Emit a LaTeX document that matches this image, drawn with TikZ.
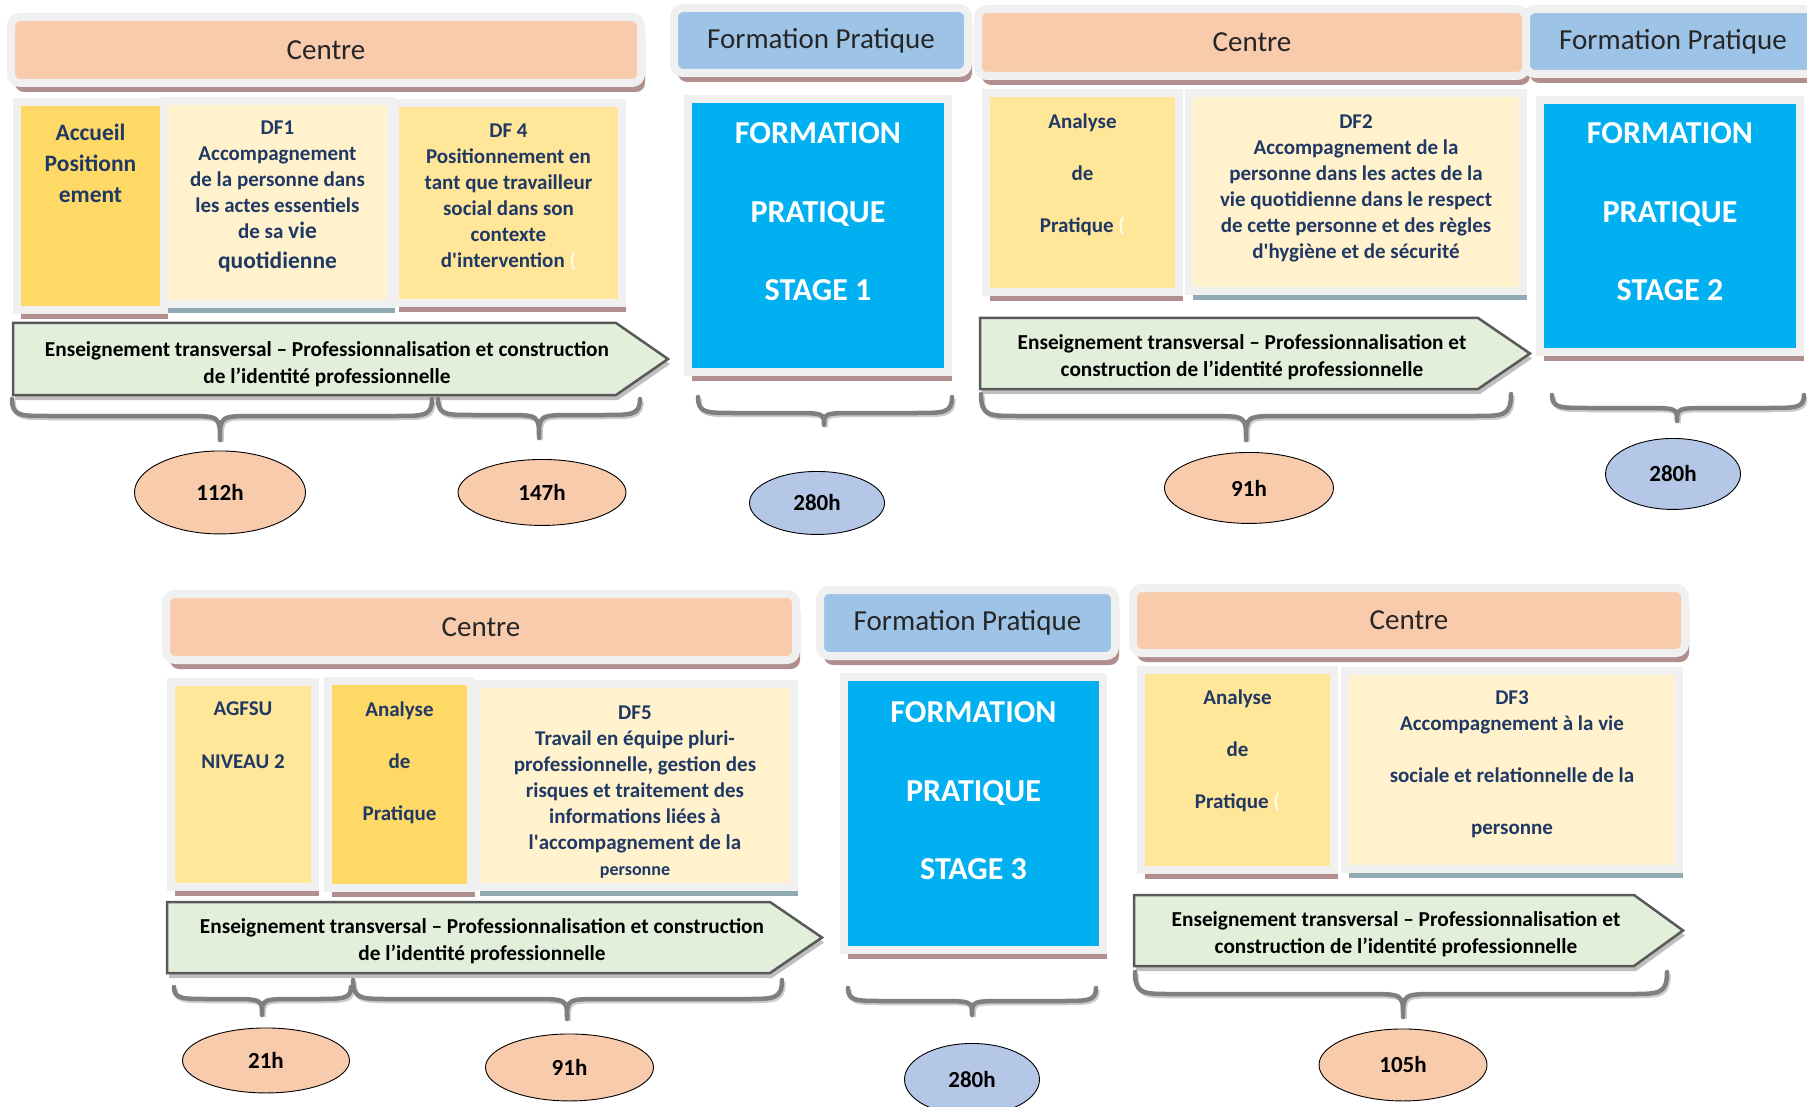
\documentclass[tikz,border=0pt]{standalone}
\usepackage{fontspec}
\setmainfont{Carlito}
\usetikzlibrary{positioning}
\usetikzlibrary{shapes.geometric}
\usetikzlibrary{shadows}

\definecolor{peach}{HTML}{F8CBAD}
\definecolor{skyblue}{HTML}{9DC3E6}
\definecolor{stagecyan}{HTML}{00B0F0}
\definecolor{gold}{HTML}{FFD966}
\definecolor{sand}{HTML}{FFE699}
\definecolor{cream}{HTML}{FFF2CC}
\definecolor{mint}{HTML}{E2EFDA}
\definecolor{hourblue}{HTML}{B4C7E7}
\definecolor{navy}{HTML}{1F3864}
\definecolor{framegray}{HTML}{F0F0F0}
\definecolor{rosy}{HTML}{B08F8E}
\definecolor{slate}{HTML}{8FAAB0}
\definecolor{headgray}{HTML}{262626}
\definecolor{bracegray}{HTML}{7F7F7F}
\definecolor{bannerline}{HTML}{595959}
\definecolor{faint}{HTML}{FFFBEA}

\newcommand{\apos}{\textquotesingle}
% name, x left, x right, x tip, y top, y middle, y tip
\newcommand{\hourbrace}[7]{%
	\draw[brace] (#2,#5) .. controls (#2,#6) and (#2+8,#6) .. (#2+36,#6) -- (#4-36,#6) .. controls (#4,#6) .. (#4,#7)
		.. controls (#4,#6) .. (#4+36,#6) -- (#3-36,#6) .. controls (#3-8,#6) and (#3,#6) .. (#3,#5);
	\coordinate (#1) at (#4,#7);}

\tikzset{
	cell/.style={draw=framegray, line width=8pt, inner sep=0pt, outer sep=0pt,
		drop shadow={shadow xshift=4pt, shadow yshift=-9pt, fill=#1, opacity=1}},
	cell/.default=rosy,
	head/.style={cell, rounded corners=9pt, text=headgray, font=\fontsize{29}{34}\selectfont},
	boxtext/.style={align=center, inner sep=0pt, text=navy, font=\bfseries\fontsize{21}{26}\selectfont},
	stagetext/.style={align=center, inner sep=0pt, text=white, font=\bfseries\fontsize{32}{78.5}\selectfont},
	banner/.style={fill=mint, draw=bannerline, line width=2.5pt,
		drop shadow={shadow xshift=2pt, shadow yshift=-5pt, fill=black!25, opacity=1}},
	bannertext/.style={align=center, inner sep=0pt, font=\bfseries\fontsize{21.3}{27}\selectfont},
	brace/.style={draw=bracegray, line width=4.5pt, line cap=round, line join=round,
		preaction={draw=black!20, line width=4.5pt, transform canvas={shift={(1.5pt,-2pt)}}}},
	hours/.style={ellipse, draw=black, line width=0.9pt, inner sep=0pt, font=\bfseries\fontsize{23}{26}\selectfont}
}

\begin{document}
\begin{tikzpicture}[x=1pt, y=-1pt]
	\useasboundingbox (0,0) rectangle (1807,1107);
	\clip (0,0) rectangle (1807,1107);
	\fill[white] (0,0) rectangle (1807,1107);

	% top row
	\node (cenA) [head, fill=peach, minimum width=630pt, minimum height=66pt] at (326,50) {Centre};
	\node (acc) [cell, fill=gold, minimum width=147pt, minimum height=208pt] at (90.5,206) {};
	\node (df1) [cell=slate, fill=cream, minimum width=227pt, minimum height=203pt] at (277.5,202.5) {};
	\node (df4) [cell, fill=sand, minimum width=227pt, minimum height=200pt] at (508.5,203) {};
	\node (acctext) [boxtext, font=\bfseries\fontsize{23.5}{31}\selectfont, below=22pt of acc.north] {Accueil\\Positionn\\ement};
	\node (df1text) [boxtext, below=20pt of df1.north] {DF1\\Accompagnement\\de la personne dans\\les actes essentiels\\de sa {\fontsize{23.5}{30}\selectfont vie}\\[4pt]{\fontsize{23.5}{30}\selectfont quotidienne}};
	\node (df4text) [boxtext, below=21pt of df4.north] {DF 4\\Positionnement en\\tant que travailleur\\social dans son\\contexte\\d\apos intervention \textcolor{faint}{(}};
	\draw[banner] (13,323) -- (616,323) -- (668,359) -- (616,395) -- (13,395) -- cycle;
	\node (banA) [bannertext] at (327,364) {Enseignement transversal -- Professionnalisation et construction\\de l’identité professionnelle};
	\hourbrace{tA1}{12}{432}{220}{399}{416}{440}
	\hourbrace{tA2}{438}{640}{539}{399}{415}{438}
	\node (hA1) [hours, fill=peach, minimum width=171pt, minimum height=83pt, below=10.5pt of tA1] {112h};
	\node (hA2) [hours, fill=peach, minimum width=168pt, minimum height=66pt, below=21pt of tA2, xshift=3pt] {147h};

	\node (fpA) [head, fill=skyblue, minimum width=294pt, minimum height=65pt] at (821,40.5) {Formation Pratique};
	\node (st1) [cell, fill=stagecyan, minimum width=260pt, minimum height=273pt] at (818,235.5) {};
	\node (st1text) [stagetext, below=23.5pt of st1.north] {FORMATION\\PRATIQUE\\STAGE 1};
	\hourbrace{tB}{698}{952}{824}{397}{413}{425}
	\node (hB) [hours, fill=hourblue, minimum width=135pt, minimum height=63pt, below=46pt of tB, xshift=-7pt] {280h};

	\node (cenC) [head, fill=peach, minimum width=548pt, minimum height=67pt] at (1252,42.5) {Centre};
	\node (anC) [cell, fill=sand, minimum width=193pt, minimum height=199pt] at (1082.5,192.5) {};
	\node (df2) [cell=slate, fill=cream, minimum width=334pt, minimum height=198pt] at (1356,192) {};
	\node (anCtext) [boxtext, font=\bfseries\fontsize{21}{52}\selectfont, below=21pt of anC.north] {Analyse\\de\\Pratique \textcolor{faint}{(}};
	\node (df2text) [boxtext, below=22pt of df2.north] {DF2\\Accompagnement de la\\personne dans les actes de la\\vie quotidienne dans le respect\\de cette personne et des règles\\d\apos hygiène et de sécurité};
	\draw[banner] (980,318) -- (1478,318) -- (1530,353.5) -- (1478,389) -- (980,389) -- cycle;
	\node (banC) [bannertext] at (1242,357) {Enseignement transversal -- Professionnalisation et\\construction de l’identité professionnelle};
	\hourbrace{tC}{981}{1511}{1246}{394}{416}{440}
	\node (hC) [hours, fill=peach, minimum width=169pt, minimum height=71pt, below=12pt of tC, xshift=3pt] {91h};

	\node (fpD) [head, fill=skyblue, minimum width=294pt, minimum height=65pt] at (1673,41.5) {Formation Pratique};
	\node (st2) [cell, fill=stagecyan, minimum width=260pt, minimum height=252pt] at (1670,226) {};
	\node (st2text) [stagetext, below=22.5pt of st2.north] {FORMATION\\PRATIQUE\\STAGE 2};
	\hourbrace{tD}{1552}{1804}{1677}{395}{408}{421}
	\node (hD) [hours, fill=hourblue, minimum width=135pt, minimum height=71pt, below=17pt of tD, xshift=-4pt] {280h};

	% bottom row
	\node (cenE) [head, fill=peach, minimum width=630pt, minimum height=66pt] at (481,627) {Centre};
	\node (agf) [cell, fill=sand, minimum width=144pt, minimum height=205pt] at (243,784.5) {};
	\node (anE) [cell, fill=gold, minimum width=143pt, minimum height=207pt] at (399.5,784.5) {};
	\node (df5) [cell=slate, fill=cream, minimum width=318pt, minimum height=203pt] at (635,785.5) {};
	\node (agftext) [boxtext, font=\bfseries\fontsize{21}{53}\selectfont, below=20pt of agf.north] {AGFSU\\NIVEAU 2};
	\node (anEtext) [boxtext, font=\bfseries\fontsize{21}{52}\selectfont, below=21pt of anE.north] {Analyse\\de\\Pratique};
	\node (df5text) [boxtext, below=22pt of df5.north] {DF5\\Travail en équipe pluri-\\professionnelle, gestion des\\risques et traitement des\\informations liées à\\l\apos accompagnement de la\\{\fontsize{18}{22}\selectfont personne}};
	\draw[banner] (167,902) -- (770,902) -- (822,937.5) -- (770,973) -- (167,973) -- cycle;
	\node (banE) [bannertext] at (482,941.5) {Enseignement transversal -- Professionnalisation et construction\\de l’identité professionnelle};
	\hourbrace{tE1}{174}{351}{262}{987}{999}{1015}
	\hourbrace{tE2}{353}{782}{567}{980}{999}{1019}
	\node (hE1) [hours, fill=peach, minimum width=167pt, minimum height=65pt, below=12.5pt of tE1, xshift=4pt] {21h};
	\node (hE2) [hours, fill=peach, minimum width=168pt, minimum height=67pt, below=14.5pt of tE2, xshift=2.5pt] {91h};

	\node (fpF) [head, fill=skyblue, minimum width=295pt, minimum height=66pt] at (967.5,623) {Formation Pratique};
	\node (st3) [cell, fill=stagecyan, minimum width=259pt, minimum height=273pt] at (973.5,813.5) {};
	\node (st3text) [stagetext, below=24.5pt of st3.north] {FORMATION\\PRATIQUE\\STAGE 3};
	\hourbrace{tF}{848}{1096}{972}{988}{1001}{1015}
	\node (hF) [hours, fill=hourblue, minimum width=135pt, minimum height=72pt, below=28pt of tF] {280h};

	\node (cenG) [head, fill=peach, minimum width=552pt, minimum height=65pt] at (1409,620.5) {Centre};
	\node (anG) [cell, fill=sand, minimum width=193pt, minimum height=200pt] at (1237.5,770) {};
	\node (df3) [cell=slate, fill=cream, minimum width=334pt, minimum height=198pt] at (1512,770) {};
	\node (anGtext) [boxtext, font=\bfseries\fontsize{21}{52}\selectfont, below=20pt of anG.north] {Analyse\\de\\Pratique \textcolor{faint}{(}};
	\node (df3text) [boxtext, below=20pt of df3.north] {DF3\\Accompagnement à la vie\\[26pt]sociale et relationnelle de la\\[26pt]personne};
	\draw[banner] (1134,895) -- (1634,895) -- (1683,930.5) -- (1634,966) -- (1134,966) -- cycle;
	\node (banG) [bannertext] at (1396,934.5) {Enseignement transversal -- Professionnalisation et\\construction de l’identité professionnelle};
	\hourbrace{tG}{1135}{1667}{1403}{972}{994}{1017}
	\node (hG) [hours, fill=peach, minimum width=168pt, minimum height=72pt, below=11.5pt of tG] {105h};
\end{tikzpicture}
\end{document}
